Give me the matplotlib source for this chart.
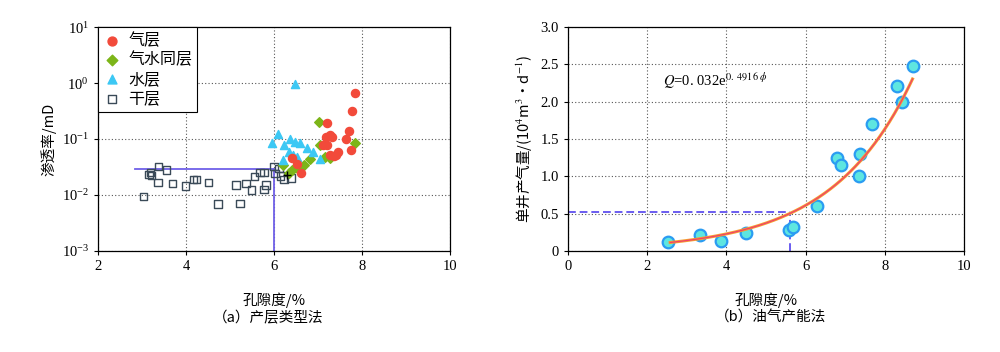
import numpy as np
import matplotlib
matplotlib.use('Agg')
import matplotlib.pyplot as plt

plt.rcParams['font.family'] = ['Liberation Serif', 'Noto Sans CJK SC']
plt.rcParams['mathtext.fontset'] = 'stix'
cjk = ['Noto Sans CJK SC', 'DejaVu Sans']

# (a) 产层类型法: 孔隙度 / 渗透率
gas_x = [7.84, 7.77, 7.21, 7.71, 7.63, 7.18, 7.27, 7.31, 7.12, 7.20, 7.75,
         7.46, 7.42, 7.27, 7.36, 6.42, 6.52, 6.61]
gas_y = [0.66, 0.32, 0.195, 0.14, 0.099, 0.11, 0.12, 0.11, 0.078, 0.078, 0.063,
         0.059, 0.052, 0.052, 0.05, 0.045, 0.036, 0.025]
gw_x = [7.03, 7.05, 7.16, 7.27, 6.82, 6.69, 6.55, 6.40, 6.35, 7.84, 6.21]
gw_y = [0.20, 0.078, 0.048, 0.046, 0.044, 0.035, 0.029, 0.028, 0.025, 0.085, 0.035]
water_x = [6.48, 5.95, 6.10, 6.23, 6.36, 6.48, 6.60, 6.74, 6.88, 6.33, 6.44,
           6.53, 6.20, 7.05]
water_y = [0.96, 0.084, 0.123, 0.078, 0.102, 0.089, 0.085, 0.068, 0.059, 0.059,
           0.051, 0.048, 0.042, 0.044]
dry_x = [3.03, 3.16, 3.19, 3.21, 3.37, 3.55, 3.36, 3.70, 3.99, 4.17, 4.24,
         4.51, 4.73, 5.14, 5.23, 5.36, 5.49, 5.55, 5.68, 5.77, 5.77, 5.82,
         6.00, 6.02, 6.11, 6.15, 6.23, 6.39]
dry_y = [0.0093, 0.0235, 0.0250, 0.0225, 0.032, 0.028, 0.0166, 0.016, 0.0145,
         0.0187, 0.0187, 0.0166, 0.0069, 0.015, 0.0071, 0.016, 0.0123, 0.0214,
         0.0254, 0.0254, 0.0126, 0.015, 0.032, 0.0245, 0.030, 0.022, 0.019, 0.020]
cross_x = [6.29]
cross_y = [0.023]
cut_phi_a = 6.0
cut_k = 0.029
line_start_a = 2.84

# (b) 油气产能法: 孔隙度 / 单井产气量
prod_x = [2.53, 3.33, 3.86, 4.49, 5.59, 5.69, 6.30, 6.80, 6.89, 7.35, 7.37,
          7.67, 8.32, 8.43, 8.70]
prod_y = [0.116, 0.214, 0.134, 0.236, 0.28, 0.317, 0.60, 1.25, 1.15, 1.00,
          1.30, 1.70, 2.21, 2.00, 2.48]
fit_a, fit_b = 0.032, 0.4916
fit_range = [2.58, 8.7]
cut_phi_b = 5.6
cut_q = 0.52

fig = plt.figure(figsize=(10, 3.52), dpi=100)
ax1 = fig.add_axes([0.098, 0.287, 0.352, 0.636])
ax2 = fig.add_axes([0.568, 0.287, 0.396, 0.636])

grid_kw = dict(color='#555555', linestyle=(0, (1, 2)), linewidth=0.8)

# ---- left
ax1.plot([line_start_a, cut_phi_a], [cut_k, cut_k], color='#7060e8', lw=1.3, zorder=2)
ax1.plot([cut_phi_a, cut_phi_a], [1e-3, cut_k], color='#7060e8', lw=1.3, zorder=2)
ax1.scatter(dry_x, dry_y, marker='s', s=28, facecolors='none', edgecolors='#3a4a58',
            linewidths=1.0, label='干层', zorder=3)
ax1.scatter(gw_x, gw_y, marker='D', s=24, color='#7cb518', label='气水同层', zorder=4)
ax1.scatter(water_x, water_y, marker='^', s=34, color='#3cc8f4', label='水层', zorder=4)
ax1.scatter(gas_x, gas_y, marker='o', s=34, color='#f24a3a', label='气层', zorder=5)
ax1.scatter(cross_x, cross_y, marker='+', s=40, color='black', linewidths=1.0, zorder=6)
ax1.set_yscale('log')
ax1.set_xlim(2, 10)
ax1.set_ylim(1e-3, 10)
ax1.set_xticks([2, 4, 6, 8, 10])
ax1.set_yticks([1e-3, 1e-2, 1e-1, 1, 10])
ax1.minorticks_off()
ax1.grid(True, **grid_kw)
handles, labels = ax1.get_legend_handles_labels()
order = [3, 1, 2, 0]
leg = ax1.legend([handles[i] for i in order], [labels[i] for i in order],
                 loc='upper left', prop={'family': cjk, 'size': 11.5},
                 fancybox=False, edgecolor='black', framealpha=1,
                 borderaxespad=0, handletextpad=0.4, labelspacing=0.15,
                 borderpad=0.3, handlelength=1.2, markerscale=1.1)
leg.get_frame().set_linewidth(0.8)
ax1.set_ylabel('渗透率/mD', family=cjk, fontsize=10.5)
ax1.set_xlabel('孔隙度/%', family=cjk, fontsize=10.5, labelpad=14)
fig.text(0.268, 0.085, '（a）产层类型法', family=cjk, fontsize=10.5, ha='center')

# ---- right
phi = np.linspace(fit_range[0], fit_range[1], 200)
ax2.plot([0, cut_phi_b], [cut_q, cut_q], color='#6a5cf0', lw=1.4, ls=(0, (4, 2)), zorder=2)
ax2.plot([cut_phi_b, cut_phi_b], [0, cut_q], color='#6a5cf0', lw=1.4, ls=(0, (4, 2)), zorder=2)
ax2.scatter(prod_x, prod_y, s=70, facecolor='#5ee6e0', edgecolor='#2a9cf2',
            linewidths=1.6, zorder=3)
ax2.plot(phi, fit_a * np.exp(fit_b * phi), color='#f5a030', lw=2.2, zorder=4)
ax2.plot(phi, fit_a * np.exp(fit_b * phi), color='#f0406a', lw=0.9, zorder=5)
ax2.set_xlim(0, 10)
ax2.set_ylim(0, 3)
ax2.set_xticks([0, 2, 4, 6, 8, 10])
ax2.set_yticks([0, 0.5, 1.0, 1.5, 2.0, 2.5, 3.0])
ax2.set_yticklabels(['0', '0.5', '1.0', '1.5', '2.0', '2.5', '3.0'])
ax2.grid(True, **grid_kw)
ax2.text(2.4, 2.22, r'$Q$=0. 032e$^{0.\ 4916\ \phi}$', fontsize=10.5)
ax2.set_ylabel('单井产气量/(10$^4$m$^3$·d$^{-1}$)', family=cjk, fontsize=10.5)
ax2.set_xlabel('孔隙度/%', family=cjk, fontsize=10.5, labelpad=14)
fig.text(0.771, 0.085, '（b）油气产能法', family=cjk, fontsize=10.5, ha='center')

for ax in (ax1, ax2):
    ax.set_axisbelow(True)
    ax.tick_params(labelsize=10.5, length=3, direction='out')
    for s in ax.spines.values():
        s.set_linewidth(0.9)

fig.savefig('out.png', dpi=100, facecolor='white')
